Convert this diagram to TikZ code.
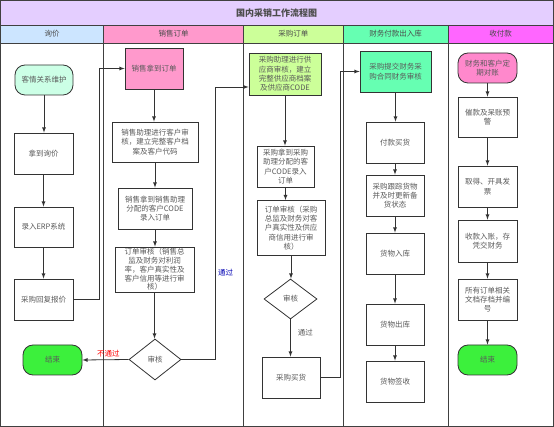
\documentclass[tikz,border=0pt]{standalone}
\usepackage{fontspec}
\setmainfont{Noto Sans CJK SC}
\usepackage{tikz}
\usetikzlibrary{shapes.geometric}
\usetikzlibrary{positioning}
\usetikzlibrary{calc}
\definecolor{titlecol}{RGB}{228,206,255}
\definecolor{xjcol}{RGB}{204,229,255}
\definecolor{xscol}{RGB}{255,153,204}
\definecolor{cgcol}{RGB}{204,255,153}
\definecolor{cwcol}{RGB}{102,255,178}
\definecolor{sfcol}{RGB}{255,102,255}
\definecolor{mintcol}{RGB}{204,255,230}
\definecolor{endcol}{RGB}{60,240,60}
\definecolor{pinkcol}{RGB}{255,136,204}
\definecolor{txtcol}{RGB}{90,90,90}
\begin{document}
\begin{tikzpicture}[x=1pt,y=-1pt,line width=0.8pt,
	bx/.style={draw=black!80,fill=white,minimum width=58pt,minimum height=41pt,inner sep=1pt,align=center,text=txtcol,font={\fontsize{7.5}{9.3}\selectfont}},
	tm/.style={bx,minimum height=30pt,rounded corners=10pt},
	dm/.style={diamond,draw=black!80,fill=white,inner sep=0pt,minimum width=52pt,minimum height=41pt,text=txtcol,font={\fontsize{7.5}{9.3}\selectfont}},
	hd/.style={inner sep=0pt,text=black!70,font={\fontsize{7.5}{9}\selectfont}},
	ar/.style={-latex,black!80},
	lb/.style={inner sep=1pt,font={\fontsize{7.5}{9}\selectfont}}]
\useasboundingbox (0,0) rectangle (554,427);

% title and lanes
\draw[black!75,fill=titlecol] (0.5,0.5) rectangle (553,25);
\node (ttl) at (276.5,13) [hd,font={\fontsize{9}{10}\selectfont\bfseries}] {国内采销工作流程图};
\foreach \xa/\xb/\cl/\hdtxt [count=\i] in {0.5/103.5/xjcol/询价, 103.5/243.5/xscol/销售订单, 243.5/343/cgcol/采购订单, 343/448/cwcol/财务付款出入库, 448/553/sfcol/收付款} {
\draw[black!75,fill=\cl] (\xa,25) rectangle (\xb,43);
\node (h\i) at ({(\xa+\xb)/2},34) [hd] {\hdtxt};
\draw[black!75] (\xa,43) rectangle (\xb,426);
}

% 询价
\node (kqwh) at (44,80) [tm,fill=mintcol] {客情关系维护};
\node (ndxj) at (43.5,153.5) [bx,minimum width=59pt] {拿到询价};
\node (lrerp) at (43.5,227) [bx,minimum width=59pt,minimum height=40pt] {录入ERP系统};
\node (cghf) at (43.5,299.5) [bx,minimum width=59pt] {采购回复报价};
\node (end1) at (52.5,360) [tm,minimum width=59pt,fill=endcol] {结束};

% 销售订单
\node (xsdd) at (154,68.5) [bx,fill=xscol] {销售拿到订单};
\node (xszl) at (155,142) [bx,minimum width=86pt,minimum height=40pt] {销售助理进行客户审\\核，建立完整客户档\\案及客户代码};
\node (xslr) at (155,208.5) [bx,minimum width=74pt] {销售拿到销售助理\\分配的客户CODE\\录入订单};
\node (xssh) at (154.5,269.5) [bx,minimum width=79pt,minimum height=45pt,font={\fontsize{7.5}{8.8}\selectfont}] {订单审核（销售总\\监及财务对利润\\率，客户真实性及\\客户信用等进行审\\核）};
\node (xsjc) at (155,359.5) [dm] {审核};

% 采购订单
\node (cgzl) at (285,74) [bx,minimum width=72pt,minimum height=42pt,fill=cgcol] {采购助理进行供\\应商审核，建立\\完整供应商档案\\及供应商CODE};
\node (cglr) at (285.5,166.5) [bx,minimum width=57pt] {采购拿到采购\\助理分配的客\\户CODE录入\\订单};
\node (cgsh) at (291,228) [bx,minimum width=68pt,minimum height=55pt] {订单审核（采购\\总监及财务对客\\户真实性及供应\\商信用进行审\\核）};
\node (cgjc) at (290.5,299) [dm,minimum width=53pt,minimum height=40pt] {审核};
\node (cgmh) at (291,377.5) [bx] {采购买货};

% 财务付款出入库
\node (cgtj) at (395.5,71.5) [bx,minimum width=71pt,fill=cwcol] {采购提交财务采\\购合同财务审核};
\node (fkmh) at (395,142.5) [bx] {付款买货};
\node (gzhw) at (395,195.5) [bx] {采购跟踪货物\\并及时更新备\\货状态};
\node (hwrk) at (395,253.5) [bx] {货物入库};
\node (hwck) at (395,324.5) [bx] {货物出库};
\node (hwqs) at (395,381.5) [bx] {货物签收};

% 收付款
\node (dqdz) at (487.5,68) [tm,minimum width=59pt,fill=pinkcol] {财务和客户定\\期对账};
\node (ckyj) at (487.5,117) [bx,minimum width=59pt,minimum height=40pt] {催款及呆账预\\警};
\node (qdfp) at (487.5,186.5) [bx,minimum width=59pt] {取得、开具发\\票};
\node (sklz) at (487.5,241) [bx,minimum width=59pt,minimum height=42pt] {收款入账，存\\凭交财务};
\node (wdcd) at (487.5,299.5) [bx,minimum width=59pt] {所有订单相关\\文档存档并编\\号};
\node (end2) at (487.5,360) [tm,minimum width=59pt,fill=endcol] {结束};

% connectors
\foreach \a/\b in {kqwh/ndxj,ndxj/lrerp,lrerp/cghf,xsdd/xszl,xszl/xslr,xslr/xssh,xssh/xsjc,cgzl/cglr,cglr/cgsh,cgsh/cgjc,cgtj/fkmh,fkmh/gzhw,gzhw/hwrk,hwrk/hwck,hwck/hwqs,dqdz/ckyj,ckyj/qdfp,qdfp/sklz,sklz/wdcd,wdcd/end2} {
\draw[ar] (\a.south) -- (\a.south |- \b.north);
}
\draw[ar] (cgjc.south) -- (cgjc.south |- cgmh.north) node [pos=0.35,right=6pt,lb,text=txtcol] {通过};

\coordinate (c1) at (99,68.5);
\coordinate (c2) at (215.7,87);
\coordinate (c3) at (340,71.5);
\draw[ar] (cghf.east) -| (c1) -- (xsdd.west);
\draw[ar] (xsjc.west) -- (end1.east) node [pos=0.44,above=1pt,lb,text=red] {不通过};
\draw[ar] (xsjc.east) -| (c2) node [pos=0.66,right=1pt,lb,text=blue!70!black] {通过} -- (c2 -| cgzl.west);
\draw[ar] (cgmh.east) -| (c3) -- (cgtj.west);
\end{tikzpicture}
\end{document}
